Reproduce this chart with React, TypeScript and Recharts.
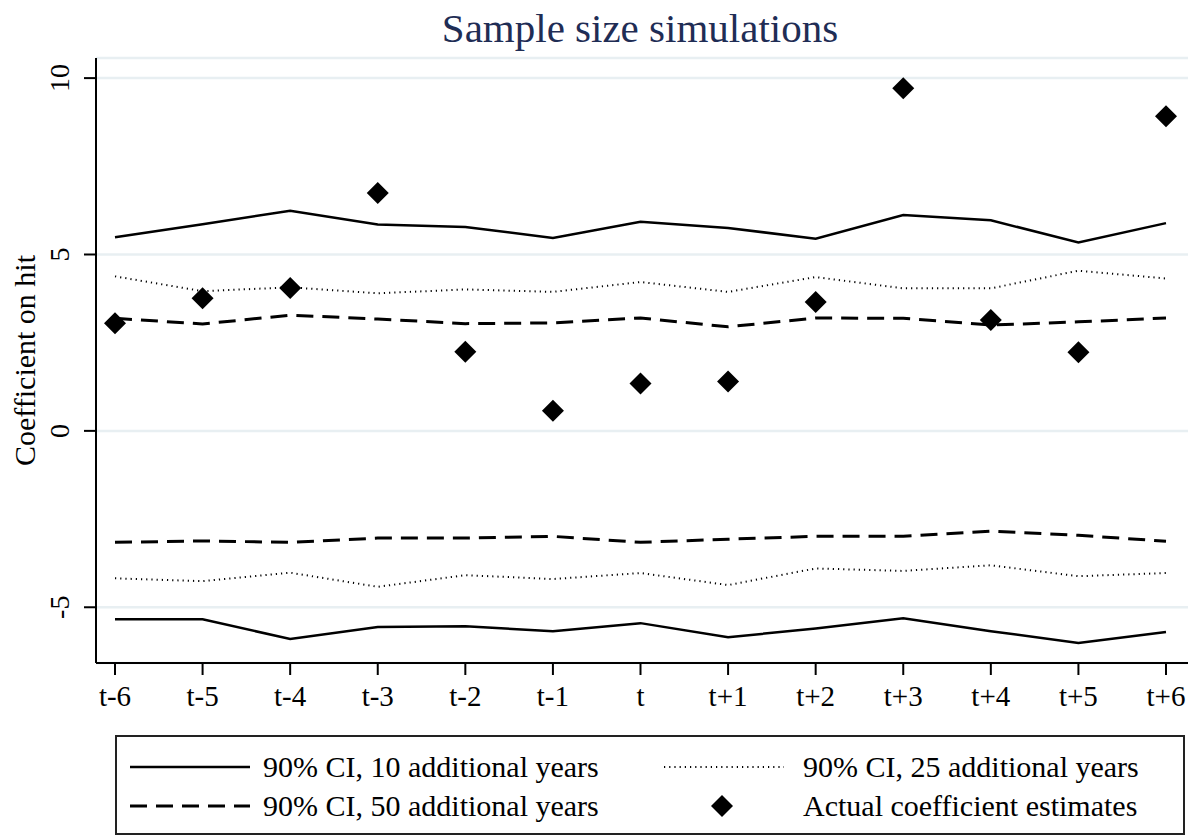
import React from 'react'
import { ComposedChart, Line, Scatter, XAxis, YAxis, CartesianGrid } from 'recharts'

const periods = ['t-6', 't-5', 't-4', 't-3', 't-2', 't-1', 't', 't+1', 't+2', 't+3', 't+4', 't+5', 't+6']
const ci10Upper = [5.49, 5.86, 6.24, 5.85, 5.78, 5.47, 5.93, 5.75, 5.45, 6.12, 5.97, 5.34, 5.89]
const ci10Lower = [-5.34, -5.34, -5.9, -5.56, -5.54, -5.68, -5.45, -5.85, -5.6, -5.31, -5.68, -6.01, -5.7]
const ci25Upper = [4.38, 3.96, 4.07, 3.9, 4.01, 3.94, 4.22, 3.94, 4.36, 4.04, 4.04, 4.54, 4.32]
const ci25Lower = [-4.18, -4.26, -4.02, -4.42, -4.09, -4.2, -4.03, -4.37, -3.9, -3.97, -3.81, -4.12, -4.03]
const ci50Upper = [3.19, 3.03, 3.28, 3.17, 3.04, 3.06, 3.2, 2.95, 3.2, 3.19, 3.0, 3.09, 3.2]
const ci50Lower = [-3.16, -3.12, -3.16, -3.04, -3.04, -2.99, -3.16, -3.07, -2.99, -2.99, -2.84, -2.96, -3.13]
const estimates = [3.05, 3.76, 4.05, 6.74, 2.24, 0.57, 1.34, 1.4, 3.65, 9.71, 3.14, 2.23, 8.92]
const yTicks = [-5, 0, 5, 10]

const rows = periods.map((p, i) => ({
    period: p,
    up10: ci10Upper[i],
    lo10: ci10Lower[i],
    up25: ci25Upper[i],
    lo25: ci25Lower[i],
    up50: ci50Upper[i],
    lo50: ci50Lower[i],
    est: estimates[i],
}))

const FONT = '"Liberation Serif", "Times New Roman", serif'
const DOTTED = '1.2 4'
const DASHED = '17 9'

const Diamond = (props: any) => {
    const { cx, cy } = props
    const r = 11
    return <path d={`M${cx},${cy - r}L${cx + r},${cy}L${cx},${cy + r}L${cx - r},${cy}Z`} fill="#000" />
}

const YTick = (props: any) => {
    const { y, payload } = props
    return (
        <text x={60} y={y} transform={`rotate(-90, 60, ${y})`} textAnchor="middle" dominantBaseline="central"
            fontFamily={FONT} fontSize={28} fill="#000">
            {payload.value}
        </text>
    )
}

const XTick = (props: any) => {
    const { x, payload } = props
    return (
        <text x={x} y={696} textAnchor="middle" dominantBaseline="central" fontFamily={FONT} fontSize={29} fill="#000">
            {payload.value}
        </text>
    )
}

const YLabel = (props: any) => {
    const { viewBox } = props
    const cy = viewBox.y + viewBox.height / 2
    return (
        <text x={24} y={cy} transform={`rotate(-90, 24, ${cy})`} textAnchor="middle" dominantBaseline="central"
            fontFamily={FONT} fontSize={30} fill="#000">
            Coefficient on hit
        </text>
    )
}

const legendText: React.CSSProperties = {
    position: 'absolute', fontFamily: FONT, fontSize: 30, color: '#000', lineHeight: '30px', whiteSpace: 'nowrap'
}

function LegendBox() {
    return (
        <div style={{ position: 'absolute', left: 115, top: 735, width: 1066, height: 96, border: '2px solid #222', background: '#fff' }}>
            <svg width={1066} height={96} style={{ position: 'absolute', left: 0, top: 0 }}>
                <line x1={13} x2={133} y1={30} y2={30} stroke="#000" strokeWidth={2.5} />
                <line x1={13} x2={133} y1={69} y2={69} stroke="#000" strokeWidth={3} strokeDasharray={DASHED} />
                <line x1={547} x2={667} y1={30} y2={30} stroke="#000" strokeWidth={2} strokeDasharray={DOTTED} />
                <path d="M605,58L616,69L605,80L594,69Z" fill="#000" />
            </svg>
            <div style={{ ...legendText, left: 146, top: 15 }}>90% CI, 10 additional years</div>
            <div style={{ ...legendText, left: 686, top: 15 }}>90% CI, 25 additional years</div>
            <div style={{ ...legendText, left: 146, top: 54 }}>90% CI, 50 additional years</div>
            <div style={{ ...legendText, left: 686, top: 54 }}>Actual coefficient estimates</div>
        </div>
    )
}

export default function App() {
    return (
        <div style={{ position: 'absolute', left: 0, top: 0, width: 1198, height: 838, background: '#fff' }}>
            <div style={{ position: 'absolute', left: 0, top: 4, width: 1280, textAlign: 'center', fontFamily: FONT, fontSize: 41, color: '#1f2d55', lineHeight: '48px' }}>
                Sample size simulations
            </div>
            <ComposedChart width={1198} height={838} data={rows} margin={{ top: 58, right: 10, left: 0, bottom: 135 }}>
                <CartesianGrid vertical={false} stroke="#e8eff2" strokeWidth={2.5} />
                <XAxis dataKey="period" scale="point" padding={{ left: 19, right: 22 }}
                    axisLine={{ stroke: '#000', strokeWidth: 2 }} tickLine={{ stroke: '#000', strokeWidth: 2 }}
                    tickSize={12} height={40} tick={<XTick />} interval={0} />
                <YAxis type="number" domain={[-6.58, 10.57]} ticks={yTicks} allowDataOverflow width={96}
                    axisLine={{ stroke: '#000', strokeWidth: 2 }} tickLine={{ stroke: '#000', strokeWidth: 2 }}
                    tickSize={12} tick={<YTick />} label={<YLabel />} />
                <Line dataKey="up10" type="linear" stroke="#000" strokeWidth={2.5} dot={false} isAnimationActive={false} />
                <Line dataKey="lo10" type="linear" stroke="#000" strokeWidth={2.5} dot={false} isAnimationActive={false} />
                <Line dataKey="up25" type="linear" stroke="#000" strokeWidth={2} strokeDasharray={DOTTED} dot={false} isAnimationActive={false} />
                <Line dataKey="lo25" type="linear" stroke="#000" strokeWidth={2} strokeDasharray={DOTTED} dot={false} isAnimationActive={false} />
                <Line dataKey="up50" type="linear" stroke="#000" strokeWidth={3} strokeDasharray={DASHED} dot={false} isAnimationActive={false} />
                <Line dataKey="lo50" type="linear" stroke="#000" strokeWidth={3} strokeDasharray={DASHED} dot={false} isAnimationActive={false} />
                <Scatter dataKey="est" shape={<Diamond />} isAnimationActive={false} />
            </ComposedChart>
            <LegendBox />
        </div>
    )
}
